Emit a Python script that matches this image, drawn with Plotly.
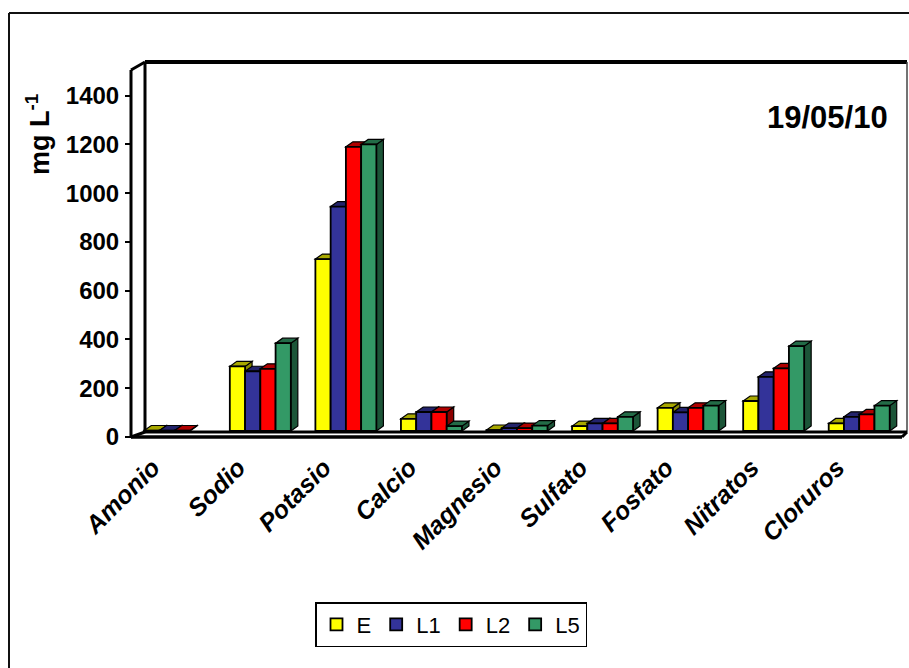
import plotly.graph_objects as go

# ---------------- data ----------------
categories = ["Amonio", "Sodio", "Potasio", "Calcio", "Magnesio",
              "Sulfato", "Fosfato", "Nitratos", "Cloruros"]
series_names = ["E", "L1", "L2", "L5"]
E_vals = [2, 265, 705, 50, 4, 20, 95, 123, 31]
L1_vals = [2, 245, 920, 78, 12, 31, 76, 222, 58]
L2_vals = [2, 255, 1165, 78, 12, 31, 95, 257, 68]
L5_vals = [None, 360, 1175, 20, 22, 58, 104, 348, 104]
y_tick_vals = [0, 200, 400, 600, 800, 1000, 1200, 1400]
date_label = "19/05/10"
y_title = "mg L<sup>-1</sup>"

# ---------------- styles ----------------
front_colors = ["#FFFF00", "#333399", "#FF0000", "#339966"]
top_colors = ["#A8A800", "#23236B", "#B00000", "#236B47"]
side_colors = ["#8A8A00", "#1C1C55", "#8C0000", "#1C5538"]
FONT = "Liberation Sans, Arial, sans-serif"

W_FIG, H_FIG = 909, 668
ML, MR, MT, MB = 132, 7, 70, 231
PW = W_FIG - ML - MR
PH = H_FIG - MT - MB          # plot bottom = front floor edge (437 px)
K = 0.2439                    # px per unit
BASE_UP = 6                   # bar base sits 6 px behind/above front edge
Y_LO = -BASE_UP / K
Y_HI = Y_LO + PH / K
BARGAP = 0.287

def px2x(p):
    return (p - ML) / PW

def py2y(p):
    return (MT + PH - p) / PH

all_series = [E_vals, L1_vals, L2_vals, L5_vals]
xs = list(range(len(categories)))

fig = go.Figure()
for name, vals, col in zip(series_names, all_series, front_colors):
    fig.add_trace(go.Bar(
        x=xs, y=vals, name=name,
        marker=dict(color=col, line=dict(color="black", width=1.8)),
    ))

# empty helper trace so the front-edge value axis (y2) is created
fig.add_trace(go.Scatter(x=[], y=[], yaxis="y2", showlegend=False,
                         hoverinfo="skip"))

# 3D faces (top + side) of each bar, placed through the data axes
bar_w = (1 - BARGAP) / len(series_names)
dx = 7 / (PW / (len(categories)))     # depth in x units (7 px)
dy = 5 / K                            # depth in y units (5 px)
shapes = []
for i, vals in enumerate(all_series):
    for c, v in zip(xs, vals):
        if v is None:
            continue
        x0 = c + (i - 1.5) * bar_w - bar_w / 2
        x1 = x0 + bar_w
        shapes.append(dict(
            type="path", xref="x", yref="y", layer="below",
            path=f"M{x1},0 L{x1},{v} L{x1+dx},{v+dy} L{x1+dx},{dy} Z",
            fillcolor=side_colors[i], line=dict(color="black", width=1.2)))
        shapes.append(dict(
            type="path", xref="x", yref="y", layer="below",
            path=f"M{x0},{v} L{x0+dx},{v+dy} L{x1+dx},{v+dy} L{x1},{v} Z",
            fillcolor=top_colors[i], line=dict(color="black", width=1.2)))

def pline(xa, ya, xb, yb, w=3, color="black", layer="below"):
    return dict(type="line", xref="paper", yref="paper", layer=layer,
                x0=px2x(xa), y0=py2y(ya), x1=px2x(xb), y1=py2y(yb),
                line=dict(color=color, width=w))

frame = [
    pline(145, 62, 907, 62, w=4),
    pline(907, 62, 907, 432, w=1.5, color="#444"),
    pline(145, 62, 145, 432, w=3),
    pline(145, 432, 907, 432, w=3),
    pline(131, 70, 145, 62, w=3),
    pline(131, 70, 131, 437, w=3),
    pline(131, 437, 145, 432, w=3),
    pline(131, 437, 902, 437, w=3.5),
    pline(902, 437, 907, 432, w=3),
    pline(9, 13, 909, 13, w=2, color="#111", layer="above"),
    pline(9, 13, 9, 668, w=2, color="#111", layer="above"),
]

fig.update_layout(
    width=W_FIG, height=H_FIG,
    margin=dict(l=ML, r=MR, t=MT, b=MB, autoexpand=False),
    paper_bgcolor="white",
    plot_bgcolor="rgba(0,0,0,0)",
    barmode="group", bargap=BARGAP, bargroupgap=0,
    font=dict(family=FONT, color="black"),
    shapes=shapes + frame,
    showlegend=True,
    legend=dict(
        orientation="h", x=px2x(451), xanchor="center",
        y=py2y(602), yanchor="top",
        bordercolor="black", borderwidth=1.5,
        font=dict(family=FONT, size=22, color="black"),
        itemwidth=30, traceorder="normal",
    ),
    xaxis=dict(
        range=[-0.5, len(categories) - 0.5],
        tickmode="array", tickvals=xs, ticktext=categories,
        tickangle=-45, ticks="", showgrid=False, zeroline=False,
        showline=False, automargin=False,
        tickfont=dict(family=FONT, size=25, weight="bold", style="italic",
                      color="black"),
        ticklabelshift=-22, ticklabelstandoff=10,
    ),
    yaxis=dict(
        range=[Y_LO, Y_HI], showticklabels=False, ticks="",
        showgrid=False, zeroline=False, showline=False, automargin=False,
    ),
    # value scale drawn along the front edge of the 3D side wall
    yaxis2=dict(
        overlaying="y", side="left", anchor="x",
        range=[0, PH / K],
        tickmode="array", tickvals=y_tick_vals,
        ticks="outside", ticklen=6, tickwidth=1.5, tickcolor="black",
        showgrid=False, zeroline=False, showline=False, automargin=False,
        tickfont=dict(family=FONT, size=24, weight="bold", color="black"),
        ticklabelstandoff=1,
    ),
    annotations=[
        dict(text=f"<b>{date_label}</b>", xref="paper", yref="paper",
             x=px2x(827), y=py2y(117), xanchor="center", yanchor="middle",
             showarrow=False, font=dict(family=FONT, size=31, color="black")),
        dict(text=f"<b>{y_title}</b>", xref="paper", yref="paper",
             x=px2x(38), y=py2y(135), xanchor="center", yanchor="middle",
             showarrow=False, textangle=-90,
             font=dict(family=FONT, size=27, color="black")),
    ],
)

fig.write_html("out.html")
